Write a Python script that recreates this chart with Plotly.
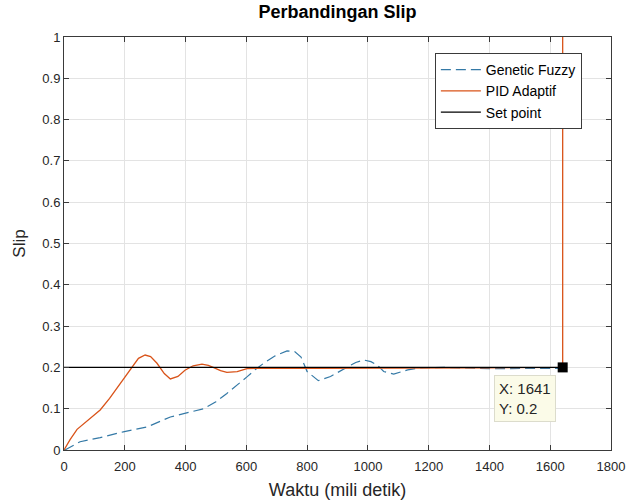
import plotly.graph_objects as go

# Genetic Fuzzy (dashed)
gf_x = [3, 53, 119, 195, 274, 350, 460, 500, 536, 570, 602, 630, 657, 695, 734, 760, 780, 800,
        837, 877, 933, 960, 986, 1010, 1032, 1052, 1085, 1131, 1174, 1250, 1400, 1550, 1650]
gf_y = [0, 0.02, 0.03, 0.044, 0.056, 0.08, 0.1, 0.117, 0.137, 0.157, 0.177, 0.195, 0.21, 0.228,
        0.24, 0.238, 0.225, 0.19, 0.168, 0.178, 0.2, 0.212, 0.218, 0.214, 0.205, 0.19, 0.184,
        0.194, 0.199, 0.2, 0.197, 0.197, 0.198]

# PID Adaptif
pid_x = [0, 20, 43, 80, 119, 150, 175, 200, 224, 245, 267, 285, 306, 330, 350, 375, 398, 425,
         454, 475, 491, 515, 536, 570, 602, 650, 800, 1000, 1200, 1400, 1641, 1641]
pid_y = [0, 0.025, 0.05, 0.072, 0.097, 0.125, 0.15, 0.175, 0.2, 0.222, 0.23, 0.226, 0.21, 0.185,
         0.172, 0.178, 0.193, 0.204, 0.208, 0.205, 0.2, 0.192, 0.188, 0.19, 0.197, 0.198, 0.198,
         0.198, 0.199, 0.199, 0.2, 1.2]

# Set point
sp_x = [0, 1641]
sp_y = [0.2, 0.2]

# Data tip
tip_x = 1641
tip_y = 0.2

x_ticks = [0, 200, 400, 600, 800, 1000, 1200, 1400, 1600, 1800]
y_ticks = [0, 0.1, 0.2, 0.3, 0.4, 0.5, 0.6, 0.7, 0.8, 0.9, 1]
y_labels = ["0", "0.1", "0.2", "0.3", "0.4", "0.5", "0.6", "0.7", "0.8", "0.9", "1"]

font_family = "Liberation Sans, Arial, sans-serif"

fig = go.Figure()
fig.add_trace(go.Scatter(x=gf_x, y=gf_y, mode="lines", name="Genetic Fuzzy",
                         line=dict(color="#3479a6", width=1.2, dash="10px,5px")))
fig.add_trace(go.Scatter(x=pid_x, y=pid_y, mode="lines", name="PID Adaptif",
                         line=dict(color="#D95319", width=1.3)))
fig.add_trace(go.Scatter(x=sp_x, y=sp_y, mode="lines", name="Set point",
                         line=dict(color="#000000", width=1.3)))
fig.add_trace(go.Scatter(x=[tip_x], y=[tip_y], mode="markers", showlegend=False,
                         marker=dict(symbol="square", size=10, color="black")))

fig.add_annotation(x=tip_x, y=tip_y, xref="x", yref="y",
                   text="X: 1641<br>Y: 0.2", showarrow=False, align="left",
                   xanchor="right", yanchor="top", xshift=-7, yshift=-8,
                   font=dict(family=font_family, size=15, color="#262626"),
                   bgcolor="#fbfbe8", bordercolor="#dcdccc", borderwidth=1, borderpad=4)

axis_common = dict(showgrid=True, gridcolor="#e3e3e3", gridwidth=1, zeroline=False,
                   showline=True, linecolor="#3a3a3a", linewidth=1, mirror="ticks",
                   ticks="inside", ticklen=5, tickcolor="#3a3a3a", automargin=False,
                   tickfont=dict(family=font_family, size=13, color="#262626"))

fig.update_xaxes(range=[0, 1800], tickvals=x_ticks, ticklabelstandoff=4,
                 title=dict(text="Waktu (mili detik)", standoff=10,
                            font=dict(family=font_family, size=18, color="#262626")),
                 **axis_common)
fig.update_yaxes(range=[0, 1], tickvals=y_ticks, ticktext=y_labels,
                 title=dict(text="Slip", standoff=12,
                            font=dict(family=font_family, size=17, color="#262626")),
                 **axis_common)

fig.update_layout(
    width=629, height=502,
    margin=dict(l=64, r=18, t=37, b=52),
    paper_bgcolor="white", plot_bgcolor="white",
    title=dict(text="<b>Perbandingan Slip</b>", x=0.5, xref="paper", xanchor="center",
               y=0.99, yanchor="top",
               font=dict(family=font_family, size=18, color="#000000")),
    legend=dict(x=0.678, y=0.961, xanchor="left", yanchor="top",
                bgcolor="white", bordercolor="#3a3a3a", borderwidth=1,
                font=dict(family=font_family, size=14, color="#000000"),
                itemwidth=40, tracegroupgap=0),
    showlegend=True,
)

fig.write_html("out.html")
